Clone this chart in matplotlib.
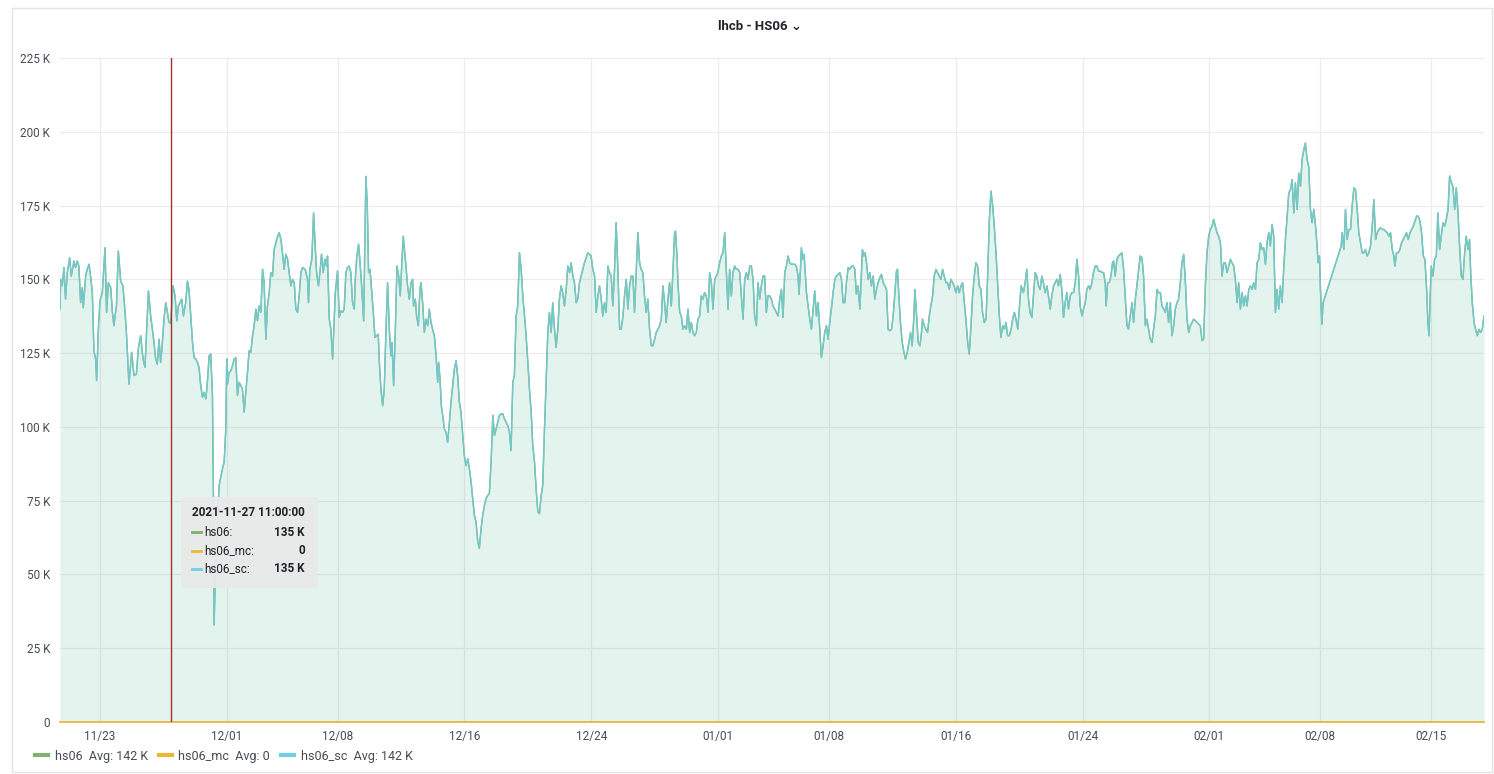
import matplotlib
matplotlib.use('Agg')
import matplotlib.pyplot as plt
import matplotlib.dates as mdates
from matplotlib.lines import Line2D
from matplotlib.patches import FancyBboxPatch, Rectangle
import numpy as np
import pandas as pd

plt.rcParams['font.family'] = ['Roboto', 'DejaVu Sans']

# time axis: days counted from 2021-11-23 00:00
start = pd.Timestamp('2021-11-23 00:00')

t_days = [
    -2.52, -2.48, -2.38, -2.27, -2.17, -2.06, -1.91, -1.81, -1.64, -1.54,
    -1.43, -1.33, -1.22, -1.11, -1.05, -0.90, -0.80, -0.69, -0.59, -0.48,
    -0.38, -0.27, -0.21, -0.10, 0.00, 0.15, 0.32, 0.42, 0.53, 0.68,
    0.78, 0.88, 1.04, 1.16, 1.31, 1.45, 1.58, 1.67, 1.83, 2.00,
    2.15, 2.30, 2.42, 2.57, 2.72, 2.84, 2.93, 3.06, 3.20, 3.31,
    3.41, 3.52, 3.62, 3.73, 3.83, 3.94, 4.04, 4.15, 4.26, 4.36,
    4.46, 4.61, 4.74, 4.85, 4.95, 5.05, 5.16, 5.27, 5.41, 5.52,
    5.62, 5.73, 5.84, 5.94, 6.05, 6.15, 6.25, 6.36, 6.47, 6.57,
    6.68, 6.78, 6.89, 6.99, 7.10, 7.16, 7.20, 7.31, 7.52, 7.73,
    7.84, 7.94, 8.00, 8.05, 8.15, 8.26, 8.36, 8.47, 8.57, 8.68,
    8.78, 8.89, 8.99, 9.10, 9.20, 9.31, 9.41, 9.52, 9.63, 9.73,
    9.84, 9.94, 10.04, 10.15, 10.26, 10.36, 10.47, 10.57, 10.68, 10.78,
    10.89, 10.99, 11.10, 11.21, 11.31, 11.42, 11.52, 11.62, 11.73, 11.84,
    11.94, 12.05, 12.15, 12.26, 12.36, 12.47, 12.57, 12.68,
    12.78, 12.95, 13.10, 13.16, 13.24, 13.37, 13.48, 13.56, 13.67, 13.79,
    13.90, 13.98, 14.09, 14.19, 14.30, 14.36, 14.47, 14.57, 14.68, 14.74,
    14.85, 14.99, 15.10, 15.20, 15.31, 15.41, 15.52, 15.62, 15.73, 15.83,
    15.94, 16.05, 16.11, 16.21, 16.32, 16.42, 16.53, 16.64, 16.72, 16.78,
    16.87, 16.95, 17.04, 17.14, 17.25, 17.35, 17.46, 17.56, 17.63, 17.73,
    17.84, 17.94, 18.05, 18.15, 18.26, 18.36, 18.43, 18.53, 18.64, 18.74,
    18.85, 18.95, 19.06, 19.14, 19.23, 19.31, 19.41, 19.52, 19.63, 19.73,
    19.79, 19.90, 19.98, 20.09, 20.19, 20.26, 20.36, 20.47, 20.57, 20.68,
    20.78, 20.89, 20.99, 21.10, 21.21, 21.31, 21.37, 21.46, 21.54, 21.63,
    21.73, 21.84, 21.94, 22.05, 22.15, 22.26, 22.36, 22.47, 22.57, 22.68,
    22.78, 22.89, 22.99, 23.10, 23.21, 23.31, 23.42, 23.52, 23.63, 23.73,
    23.84, 23.94, 24.05, 24.15, 24.26, 24.36, 24.47, 24.57, 24.68, 24.79,
    24.89, 25.00, 25.10, 25.21, 25.31, 25.42, 25.52, 25.63, 25.73, 25.84,
    25.94, 26.05, 26.15, 26.26, 26.36, 26.47, 26.58, 26.68, 26.79, 26.89,
    27.00, 27.10, 27.21, 27.31, 27.42, 27.52, 27.63, 27.73, 27.84,
    27.94, 28.05, 28.15, 28.26, 28.36, 28.47, 28.57, 28.68, 28.78, 28.89,
    28.99, 29.10, 29.20, 29.31, 29.42, 29.52, 29.63, 29.73, 29.84, 29.94,
    30.05, 30.15, 30.26, 30.36, 30.47, 30.57, 30.68, 30.78, 30.89, 30.99,
    31.10, 31.21, 31.31, 31.42, 31.52, 31.63, 31.73, 31.84, 31.94, 32.05,
    32.15, 32.26, 32.36, 32.47, 32.57, 32.68, 32.79, 32.89, 33.00, 33.10,
    33.21, 33.31, 33.42, 33.52, 33.63, 33.73, 33.84, 33.94, 34.05, 34.15,
    34.26, 34.36, 34.47, 34.57, 34.68, 34.79, 34.89, 35.00, 35.10, 35.21,
    35.31, 35.42, 35.52, 35.63, 35.73, 35.84, 35.94, 36.05, 36.15, 36.26,
    36.32, 36.41, 36.47, 36.58, 36.68, 36.79, 36.89, 37.00, 37.10, 37.21,
    37.31, 37.42, 37.52, 37.63, 37.73, 37.84, 37.94, 38.05, 38.15, 38.26,
    38.37, 38.47, 38.58, 38.68, 38.79, 38.89, 38.99, 39.10, 39.21, 39.31,
    39.42, 39.52, 39.63, 39.73, 39.84, 39.94, 40.05, 40.15, 40.26, 40.37,
    40.47, 40.58, 40.68, 40.79, 40.89, 41.00, 41.10, 41.21, 41.31, 41.42,
    41.52, 41.63, 41.73, 41.84, 41.94, 42.05, 42.15, 42.26, 42.37, 42.47,
    42.58, 42.68, 42.79, 42.89, 43.00,
    43.10, 43.21, 43.31, 43.42, 43.52, 43.63, 43.73, 43.84, 43.94, 44.05,
    44.11, 44.20, 44.26, 44.36, 44.43, 44.49, 44.58, 44.68, 44.79, 44.89,
    45.00, 45.10, 45.21, 45.31, 45.42, 45.52, 45.63, 45.73, 45.84, 45.94,
    46.05, 46.15, 46.26, 46.37, 46.47, 46.58, 46.68, 46.79, 46.89, 47.00,
    47.10, 47.21, 47.31, 47.42, 47.52, 47.63, 47.73, 47.84, 47.95, 48.05,
    48.11, 48.20, 48.28, 48.37, 48.47, 48.58, 48.68, 48.79, 48.89, 49.00,
    49.10, 49.21, 49.31, 49.42, 49.52, 49.63, 49.73, 49.84, 49.95, 50.05,
    50.16, 50.26, 50.32, 50.41, 50.51, 50.62, 50.73, 50.83, 50.94, 51.04,
    51.15, 51.25, 51.36, 51.42, 51.53, 51.63, 51.74, 51.84, 51.90, 52.01,
    52.11, 52.22, 52.33, 52.43, 52.54, 52.64, 52.75, 52.85, 52.96, 53.06,
    53.17, 53.27, 53.38, 53.48, 53.59, 53.69, 53.80, 53.90, 54.01, 54.12,
    54.22, 54.33, 54.43, 54.54, 54.64, 54.75, 54.85, 54.96, 55.06, 55.17,
    55.27, 55.38, 55.48, 55.59, 55.69, 55.80, 55.91, 56.01, 56.12, 56.22,
    56.33, 56.43, 56.54, 56.64, 56.75, 56.85, 56.96, 57.07, 57.17, 57.27,
    57.38, 57.49, 57.59, 57.70, 57.80, 57.91, 58.01, 58.12,
    58.27, 58.38, 58.48, 58.59, 58.69, 58.80, 58.90, 59.01, 59.11, 59.22,
    59.32, 59.43, 59.53, 59.64, 59.75, 59.85, 59.96, 60.06, 60.17, 60.27,
    60.38, 60.48, 60.59, 60.69, 60.80, 60.90, 61.01, 61.11, 61.22, 61.32,
    61.43, 61.54, 61.64, 61.75, 61.85, 61.96, 62.06, 62.17, 62.27, 62.38,
    62.48, 62.59, 62.69, 62.80, 62.90, 63.01, 63.12, 63.22, 63.33, 63.43,
    63.49, 63.58, 63.68, 63.79, 63.89, 63.96, 64.06, 64.17, 64.27, 64.38,
    64.48, 64.59, 64.69, 64.80, 64.90, 65.01, 65.12, 65.22, 65.33, 65.43,
    65.54, 65.64, 65.75, 65.85, 65.96, 66.06, 66.17, 66.27, 66.38, 66.48,
    66.59, 66.70, 66.80, 66.91, 67.01, 67.12, 67.22, 67.33, 67.43, 67.54,
    67.64, 67.75, 67.85, 67.96, 68.06, 68.17, 68.27, 68.38, 68.49, 68.59,
    68.70, 68.80, 68.91, 69.01, 69.12, 69.22, 69.33, 69.43, 69.54, 69.64,
    69.75, 69.85, 69.96, 70.06, 70.17, 70.27, 70.38, 70.48, 70.59, 70.70,
    70.80, 70.91, 71.01, 71.12, 71.22, 71.33, 71.43, 71.54, 71.64, 71.75,
    71.85, 71.96, 72.07, 72.17, 72.28, 72.38, 72.49, 72.59, 72.70, 72.80,
    72.91, 73.01, 73.12, 73.22, 73.33,
    73.43, 73.54, 73.64, 73.75, 73.85, 73.96, 74.06, 74.17, 74.27, 74.38,
    74.48, 74.59, 74.69, 74.80, 74.91, 75.01, 75.12, 75.22, 75.33, 75.43,
    75.54, 75.64, 75.75, 75.85, 75.96, 76.06, 76.17, 76.27, 76.38, 76.48,
    76.59, 76.70, 76.80, 76.86, 76.95, 77.01, 77.10, 77.18, 78.32, 78.38,
    78.49, 78.59, 78.70, 78.80, 78.91, 79.01, 79.12, 79.22, 79.33, 79.43,
    79.54, 79.64, 79.75, 79.85, 79.96, 80.06, 80.17, 80.28, 80.38, 80.49,
    80.59, 80.70, 80.80, 80.91, 81.01, 81.12, 81.22, 81.33, 81.43, 81.54,
    81.64, 81.71, 81.81, 81.92, 82.02, 82.13, 82.23, 82.34, 82.44, 82.55,
    82.66, 82.76, 82.87, 82.97, 83.08, 83.18, 83.29, 83.39, 83.50, 83.60,
    83.71, 83.79, 83.86, 83.92, 84.00, 84.11, 84.21, 84.32, 84.42, 84.53,
    84.63, 84.74, 84.85, 84.95, 85.06, 85.16, 85.27, 85.37, 85.48, 85.58,
    85.69, 85.79, 85.90, 86.00, 86.11, 86.21, 86.32, 86.42, 86.49, 86.59,
    86.70, 86.80, 86.91, 87.01, 87.12, 87.22, 87.33,
]

# hs06_sc in thousands (K)
hs06_sc = [
    139.9, 150.0, 147.8, 154.0, 143.3, 152.3, 157.3, 151.1, 156.2, 154.0,
    156.2, 154.5, 142.1, 147.2, 140.4, 151.1, 153.4, 155.1, 151.1, 145.5,
    125.8, 123.0, 115.7, 133.1, 142.7, 145.5, 160.7, 138.8, 148.9, 147.2,
    139.3, 134.3, 141.0, 159.6, 149.4, 147.8, 139.3, 132.0, 114.5, 125.3,
    117.4, 117.9, 126.4, 130.9, 123.0, 120.2, 130.9, 146.1, 137.6, 133.1,
    128.6, 123.0, 121.3, 129.7, 121.9, 128.6, 136.5, 142.1, 138.8, 135.4,
    135.0, 147.8, 144.4, 135.9, 141.0, 142.1, 143.3, 137.6, 142.1, 149.4,
    146.6, 137.6, 128.6, 123.5, 123.0, 121.9, 120.2, 114.0, 110.0, 111.7,
    109.5, 115.1, 124.1, 124.7, 110.6, 76.8, 32.9, 54.3, 80.2, 85.8,
    88.1, 99.3, 123.0, 114.5, 118.5, 119.0, 120.7, 123.0, 123.5, 110.6,
    115.1, 114.0, 112.9, 105.0, 111.7, 118.5, 125.8, 125.3, 130.9, 134.3,
    139.9, 136.0, 141.0, 138.8, 153.4, 148.9, 129.7, 141.0, 145.5, 152.3,
    151.1, 160.1, 162.4, 164.6, 165.8, 163.5, 159.0, 153.4, 158.5, 156.8,
    152.3, 147.8, 150.0, 148.9, 139.9, 138.8, 144.4, 152.3,
    154.0, 153.4, 150.0, 142.1, 153.4, 156.8, 172.5, 163.5, 152.3, 147.8,
    153.4, 158.5, 152.3, 156.8, 154.5, 157.9, 136.5, 133.1, 123.0, 130.9,
    145.5, 152.8, 137.1, 139.3, 138.8, 139.9, 152.3, 154.0, 154.5, 152.3,
    142.1, 139.9, 150.0, 157.9, 161.9, 155.1, 146.6, 135.9, 163.5, 184.9,
    174.8, 152.3, 153.4, 146.6, 138.8, 130.3, 130.9, 131.4, 121.9, 112.9,
    107.2, 112.9, 133.1, 148.9, 133.1, 124.1, 128.6, 114.0, 133.1, 154.5,
    151.1, 144.4, 156.8, 164.6, 159.0, 154.5, 147.8, 143.3, 148.9, 150.0,
    141.0, 143.3, 137.6, 134.3, 146.6, 148.9, 142.1, 132.0, 136.5, 134.3,
    139.9, 135.4, 133.1, 130.9, 124.1, 115.1, 121.9, 116.2, 107.2, 103.8,
    99.3, 98.2, 94.8, 101.6, 108.4, 114.0, 119.6, 122.4, 117.4, 108.4,
    105.0, 97.1, 90.3, 86.9, 89.2, 85.8, 81.3, 75.7, 70.0, 67.8,
    61.1, 58.9, 65.6, 70.0, 73.4, 75.7, 76.8, 77.4, 88.1, 103.9,
    97.1, 99.3, 101.6, 103.9, 104.4, 104.4, 102.7, 101.6, 100.5, 98.2,
    92.0, 115.1, 117.4, 137.6, 141.0, 159.0, 153.4, 144.4, 137.6, 130.9,
    121.9, 112.9, 105.0, 93.7, 88.1, 79.1, 71.2, 70.6, 76.8,
    80.2, 99.3, 115.1, 132.0, 138.8, 132.0, 142.1, 133.1, 126.9, 133.1,
    143.3, 147.8, 145.5, 141.0, 146.6, 154.5, 152.3, 155.6, 151.1, 148.9,
    142.1, 143.3, 148.9, 151.1, 153.4, 155.6, 157.3, 159.0, 158.5, 157.9,
    153.4, 151.1, 138.8, 144.4, 147.8, 143.3, 137.6, 142.1, 138.8, 154.5,
    152.3, 151.1, 141.0, 153.4, 169.2, 153.4, 133.1, 133.1, 137.6, 144.4,
    150.0, 139.9, 147.8, 151.1, 151.1, 138.8, 153.4, 165.8, 155.6, 153.4,
    152.3, 144.4, 138.8, 143.3, 133.1, 127.5, 127.5, 129.7, 132.0, 133.1,
    134.3, 136.5, 147.8, 142.1, 135.4, 143.3, 148.9, 141.0, 152.3, 165.8,
    166.3, 157.9, 148.9, 138.8, 137.6, 133.1, 134.3, 133.1, 139.9, 132.0,
    135.4, 132.0, 130.9, 132.0, 136.5, 137.6, 144.4, 143.3, 145.5, 144.4,
    138.8, 152.3, 148.9, 139.9, 150.0, 151.1, 152.3, 155.6, 157.9, 159.0,
    165.8, 153.4, 139.9, 153.4, 144.4, 152.3, 154.5, 153.4, 153.4, 152.3,
    144.4, 136.5, 150.0, 152.3, 150.0, 154.5, 154.5, 150.0, 137.6, 134.3,
    148.9, 143.3, 147.8, 151.1, 151.1, 138.8, 144.4, 144.4, 143.3, 141.0,
    139.9, 138.8, 137.6, 143.3, 146.6,
    137.1, 152.3, 154.5, 157.9, 155.6, 155.1, 155.1, 155.1, 154.5, 151.1,
    144.9, 153.4, 160.7, 156.8, 158.5, 153.4, 145.5, 141.0, 136.5, 133.1,
    139.9, 146.1, 137.6, 142.1, 133.1, 123.5, 127.5, 132.0, 134.3, 129.7,
    135.4, 139.9, 145.5, 150.0, 151.1, 151.7, 152.3, 150.0, 142.1, 142.1,
    148.9, 154.0, 153.4, 154.5, 154.5, 153.4, 144.9, 147.8, 139.9, 152.3,
    160.1, 157.9, 159.0, 155.6, 150.0, 152.3, 147.8, 151.1, 143.3, 146.6,
    148.9, 150.6, 151.7, 148.9, 147.8, 146.6, 133.1, 132.6, 133.1, 137.6,
    145.5, 152.8, 153.4, 144.4, 135.4, 128.6, 125.3, 123.0, 125.3, 128.6,
    132.0, 127.5, 137.6, 146.6, 137.6, 128.6, 127.5, 132.0, 136.5, 134.3,
    133.1, 132.0, 137.6, 141.0, 144.4, 151.1, 153.4, 152.3, 151.1, 150.0,
    153.4, 151.1, 148.9, 148.9, 146.6, 150.0, 148.9, 147.8, 145.5, 147.8,
    145.5, 147.8, 148.9, 142.1, 136.5, 128.6, 124.7, 134.3, 144.4, 151.1,
    155.6, 154.5, 147.8, 146.6, 138.8, 135.4, 136.5, 151.1, 170.3, 179.9,
    174.8, 168.0, 159.0, 148.9, 137.6, 130.3, 134.3, 133.1, 135.4, 130.9,
    130.9, 133.1, 136.5, 138.8, 136.5, 133.1, 139.9, 147.8,
    145.5, 148.9, 153.4, 143.3, 138.8, 137.1, 144.4, 152.3, 151.1, 147.8,
    146.6, 151.1, 148.9, 145.5, 147.8, 144.4, 139.9, 144.4, 147.8, 148.9,
    150.0, 147.8, 151.7, 146.6, 137.1, 142.1, 145.5, 139.9, 144.4, 145.5,
    145.5, 148.9, 156.8, 151.1, 141.0, 137.6, 139.9, 142.1, 146.6, 147.8,
    146.6, 148.9, 152.3, 154.5, 154.5, 152.8, 152.8, 152.3, 152.3, 148.9,
    141.0, 148.9, 148.9, 151.1, 155.6, 156.2, 151.1, 156.8, 157.9, 158.5,
    159.0, 153.4, 144.4, 134.3, 133.1, 137.6, 142.1, 135.4, 143.3, 147.8,
    153.4, 157.9, 157.3, 151.1, 134.3, 136.5, 133.1, 129.7, 128.6, 133.1,
    137.6, 146.6, 145.5, 145.5, 141.0, 139.9, 138.8, 142.1, 135.4, 142.1,
    130.9, 134.3, 139.9, 142.1, 143.3, 148.9, 155.6, 158.5, 148.9, 136.5,
    132.0, 134.3, 135.4, 136.5, 136.0, 135.4, 134.8, 134.3, 129.2, 129.7,
    147.8, 159.0, 164.6, 166.9, 168.0, 170.3, 168.0, 165.8, 164.6, 162.4,
    151.1, 155.6, 155.6, 152.3, 154.5, 156.8, 155.6, 154.5, 150.0, 142.1,
    148.9, 139.9, 145.5, 141.0, 144.4, 141.0, 146.6, 147.8, 146.6, 148.9,
    146.6, 155.6, 156.8, 162.4, 160.1,
    160.7, 155.1, 162.4, 165.8, 161.3, 168.6, 164.6, 138.8, 146.6, 139.9,
    147.8, 142.1, 153.4, 163.5, 171.4, 179.3, 180.4, 183.8, 172.5, 182.7,
    173.7, 186.0, 181.5, 190.5, 193.9, 196.2, 190.5, 188.3, 173.7, 169.2,
    173.7, 168.0, 161.3, 155.6, 157.9, 146.6, 134.8, 142.1, 161.3, 165.8,
    160.1, 173.7, 163.5, 166.9, 166.9, 174.8, 181.0, 180.4, 173.7, 165.8,
    162.4, 159.0, 159.0, 160.1, 157.9, 159.0, 161.3, 168.0, 177.0, 163.5,
    165.8, 166.9, 167.5, 166.9, 166.9, 166.3, 165.8, 164.6, 165.8, 160.1,
    157.9, 154.5, 159.0, 159.0, 160.1, 162.4, 163.5, 164.6, 165.8, 163.5,
    165.8, 166.9, 168.0, 169.7, 171.4, 171.4, 169.7, 165.8, 157.9, 156.8,
    146.6, 135.4, 130.9, 142.1, 154.5, 151.1, 156.8, 157.9, 172.5, 160.1,
    164.6, 169.2, 168.0, 170.3, 173.7, 185.0, 182.7, 181.5, 173.7, 181.0,
    172.5, 161.3, 151.1, 150.0, 159.0, 164.6, 160.1, 163.5, 152.3, 142.1,
    135.4, 133.1, 130.9, 133.1, 132.0, 133.1, 137.6,
]

hs06 = list(hs06_sc)          # total equals the sc part (mc is zero)
hs06_mc = [0.0] * len(hs06_sc)

series_names = ['hs06', 'hs06_mc', 'hs06_sc']
series_colors = ['#7EB26D', '#EAB839', '#6ED0E0']
legend_avgs = ['142 K', '0', '142 K']

tick_dates = ['2021-11-23', '2021-12-01', '2021-12-08', '2021-12-16',
              '2021-12-24', '2022-01-01', '2022-01-08', '2022-01-16',
              '2022-01-24', '2022-02-01', '2022-02-08', '2022-02-15']
y_ticks_k = [0, 25, 50, 75, 100, 125, 150, 175, 200, 225]

hover_time = '2021-11-27 11:00:00'
hover_values = ['135 K', '0', '135 K']

assert len(t_days) == len(hs06_sc)

times = start + pd.to_timedelta(t_days, unit='D')
sc = np.array(hs06_sc) * 1000
tot = np.array(hs06) * 1000
mc = np.array(hs06_mc) * 1000

W, H = 1494, 774
fig = plt.figure(figsize=(W / 100, H / 100), dpi=100)
fig.patch.set_facecolor('white')
ax = fig.add_axes([60 / W, 1 - 722 / H, (1484 - 60) / W, (722 - 58) / H])

txt_color = '#464c54'

# fills (10% opacity like grafana) and lines
ax.fill_between(times, 0, tot, color=series_colors[0], alpha=0.10, lw=0)
ax.fill_between(times, 0, sc, color=series_colors[2], alpha=0.10, lw=0)
ax.plot(times, tot, color=series_colors[0], lw=1.0)
ax.plot(times, mc, color=series_colors[1], lw=1.3, clip_on=False, zorder=4)
ax.plot(times, sc, color='#72c8cc', lw=1.0, zorder=3)

ax.set_xlim(times[0], times[-1])
ax.set_ylim(0, 225000)

ax.set_yticks([v * 1000 for v in y_ticks_k])
ax.set_yticklabels(['0' if v == 0 else f'{v} K' for v in y_ticks_k])
ax.set_xticks(pd.to_datetime(tick_dates))
ax.xaxis.set_major_formatter(mdates.DateFormatter('%m/%d'))

ax.tick_params(axis='both', length=0, labelsize=8.5, colors=txt_color)
ax.tick_params(axis='y', pad=7)
ax.tick_params(axis='x', pad=6)
ax.grid(True, color='#ebebeb', lw=0.8)
ax.set_axisbelow(True)
for s in ax.spines.values():
    s.set_visible(False)

# hover crosshair
hover_ts = pd.Timestamp(hover_time)
ax.axvline(hover_ts, color='#a8302c', lw=1.0, zorder=5)

# panel frame
fig.patches.append(Rectangle((12 / W, 2 / H), (W - 14) / W, (H - 10) / H,
                             transform=fig.transFigure, fill=False,
                             edgecolor='#e4e4e4', lw=1.0))

# title
fig.text(760 / W, 1 - 27 / H, 'lhcb - HS06 \u2304', ha='center', va='center',
         fontsize=9.5, fontweight='bold', color='#202226')

# tooltip box
bx0, by0, bx1, by1 = 181, 497, 318, 588
fig.patches.append(FancyBboxPatch((bx0 / W, 1 - by1 / H), (bx1 - bx0) / W, (by1 - by0) / H,
                                  boxstyle='round,pad=0,rounding_size=0.004',
                                  transform=fig.transFigure, facecolor='#e9e9e9',
                                  edgecolor='none', alpha=0.95, zorder=10))
fig.text(192 / W, 1 - 512 / H, hover_time, ha='left', va='center', fontsize=8.5,
         fontweight='bold', color='#202226', zorder=11)
for i, (name, col, val) in enumerate(zip(series_names, series_colors, hover_values)):
    yy = 1 - (532 + i * 18.5) / H
    fig.lines.append(Line2D([192 / W, 201 / W], [yy, yy], transform=fig.transFigure,
                            color=col, lw=2, zorder=11))
    fig.text(204 / W, yy, name + ':', ha='left', va='center', fontsize=8.5,
             color='#202226', zorder=11)
    fig.text(305 / W, yy, val, ha='right', va='center', fontsize=8.5,
             fontweight='bold', color='#202226', zorder=11)

# legend
handles = [Line2D([], [], color=c, lw=3.0) for c in series_colors]
labels = [f'{n}  Avg: {a}' for n, a in zip(series_names, legend_avgs)]
fig.legend(handles, labels, loc='lower left', bbox_to_anchor=(24 / W, 0 / H),
           ncol=3, frameon=False, fontsize=9, handlelength=1.0,
           handletextpad=0.55, columnspacing=0.9, labelcolor=txt_color)

fig.savefig('out.png', dpi=100)
